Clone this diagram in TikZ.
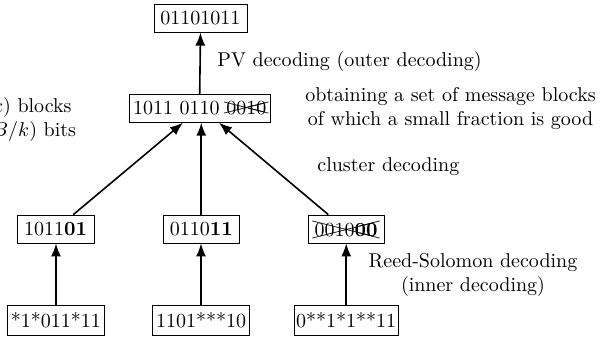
\documentclass[tikz,border=0pt]{standalone}
\usepackage{tikz}
\usetikzlibrary{arrows.meta}
\usepackage{cancel}

\begin{document}
\begin{tikzpicture}[
  blk/.style={draw, inner xsep=1pt, inner ysep=0pt, minimum height=14pt},
  lbl/.style={inner sep=0pt},
  up/.style={thick, -{Latex[length=6.5pt,width=5pt]}}
]
\useasboundingbox (0,0) rectangle (10.684cm,-5.992cm);
\clip (0,0) rectangle (10.684cm,-5.992cm);
% the blocks
\node[blk, minimum width=46.5pt] (msg) at (3.523cm,-0.320cm) {01101011};
\node[blk, minimum width=70.3pt] (list) at (3.509cm,-1.903cm) {1011 0110 \xcancel{0010}};
\node[blk, minimum width=38.3pt] (rs1) at (0.979cm,-4.024cm) {1011\textbf{01}};
\node[blk, minimum width=38pt] (rs2) at (3.537cm,-4.024cm) {0110\textbf{11}};
\node[blk, minimum width=38pt] (rs3) at (6.080cm,-4.024cm) {\xcancel{0010\textbf{00}}};
\node[blk, minimum width=48.7pt, minimum height=15pt] (rd1) at (0.984cm,-5.623cm) {*1*011*11};
\node[blk, minimum width=48.3pt, minimum height=15pt] (rd2) at (3.532cm,-5.623cm) {1101***10};
\node[blk, minimum width=51.8pt, minimum height=15pt] (rd3) at (6.084cm,-5.623cm) {0**1*1**11};
% the texts
\node[lbl, anchor=north west, align=left] (split) at (-0.561cm,-1.699cm) {$O(k)$ blocks\\$O(B/k)$ bits};
\node[lbl, anchor=base west] (pv) at (3.813cm,-1.177cm) {PV decoding (outer decoding)};
\node[lbl, anchor=north, align=center] (obt) at (7.916cm,-1.525cm) {obtaining a set of message blocks\\of which a small fraction is good};
\node[lbl, anchor=base west] (clu) at (5.571cm,-3.005cm) {cluster decoding};
\node[lbl, anchor=north, align=center] (inner) at (8.312cm,-4.442cm) {Reed-Solomon decoding\\(inner decoding)};
% the arrows
\draw[up] (list.north) -- (msg.south);
\draw[up] ([xshift=8.8pt]rs1.north) -- ([xshift=-8.35pt]list.south);
\draw[up] (rs2.north) -- (rs2.north |- list.south);
\draw[up] ([xshift=-8.85pt]rs3.north) -- ([xshift=9.65pt]list.south);
\draw[up] (rd1.north) -- (rd1.north |- rs1.south);
\draw[up] (rd2.north) -- (rd2.north |- rs2.south);
\draw[up] (rd3.north) -- (rd3.north |- rs3.south);
\end{tikzpicture}
\end{document}
